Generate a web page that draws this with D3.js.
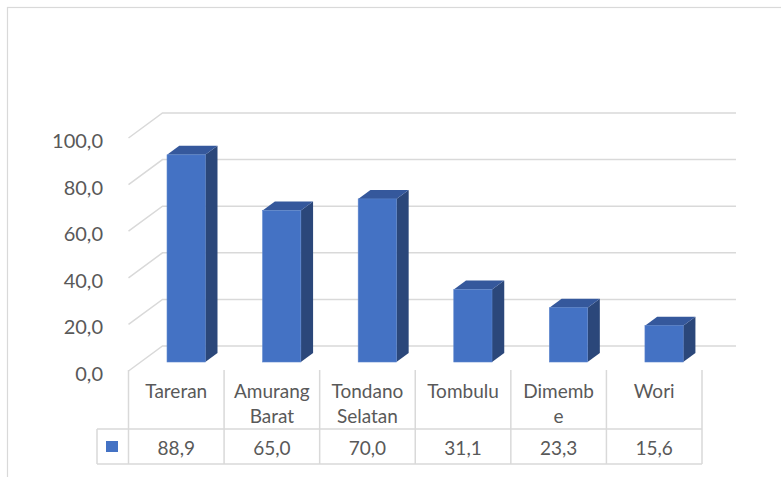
<!DOCTYPE html>
<html>
<head>
<meta charset="utf-8">
<script src="https://cdn.jsdelivr.net/npm/d3@7"></script>
<style>
  body { margin: 0; background: #fff; }
  svg { display: block; }
  text { font-family: Lato, "Open Sans", sans-serif; fill: #595959; }
</style>
</head>
<body>
<div id="chart"></div>
<script>
const categories = ['Tareran', 'Amurang Barat', 'Tondano Selatan', 'Tombulu', 'Dimembe', 'Wori']
// how the header cells wrap in the data table
const categoryLines = [['Tareran'], ['Amurang', 'Barat'], ['Tondano', 'Selatan'], ['Tombulu'], ['Dimemb', 'e'], ['Wori']]
const values = [88.9, 65.0, 70.0, 31.1, 23.3, 15.6]
const yTicks = [0, 20, 40, 60, 80, 100]

const W = 781, H = 477
const depthX = 34, depthY = 25   // the 3d offset of the back wall
const barZ0 = 0.36, barZ1 = 0.72 // bar front / back inside the depth

const svg = d3.select('#chart').append('svg')
  .attr('width', W)
  .attr('height', H)

// chart frame (only top and left edges show)
svg.append('rect')
  .attr('x', 7.5).attr('y', 7.5)
  .attr('width', 900).attr('height', 600)
  .attr('fill', 'none')
  .attr('stroke', '#d9d9d9')
  .attr('stroke-width', 1.2)

const x = d3.scaleBand()
  .domain(categories)
  .range([128.5, 702])

const y = d3.scaleLinear()
  .domain([0, 100])
  .range([371, 138])

const fmt = v => d3.format('.1f')(v).replace('.', ',')

// project a point given front-plane x, value and depth z (0..1)
const px = (xv, z) => xv + depthX * z
const py = (v, z) => y(v) - depthY * z

// gridlines: side diagonal + back wall line
const grid = svg.append('g')
  .attr('stroke', '#d9d9d9')
  .attr('stroke-width', 1.5)
  .attr('fill', 'none')
grid.selectAll('path')
  .data(yTicks)
  .join('path')
  .attr('d', d => `M${x.range()[0]},${y(d)}L${px(x.range()[0], 1)},${py(d, 1)}L${px(x.range()[1], 1)},${py(d, 1)}`)

// tick labels
svg.append('g')
  .selectAll('text')
  .data(yTicks)
  .join('text')
  .attr('x', 103)
  .attr('y', d => y(d) + 2)
  .attr('text-anchor', 'end')
  .attr('dominant-baseline', 'central')
  .attr('font-size', 20)
  .text(fmt)

// bars
const bw = x.bandwidth() * 0.4
const bx = c => x(c) + x.bandwidth() * 0.275
const bars = svg.append('g')
  .selectAll('g')
  .data(values.map((v, i) => ({ c: categories[i], v })))
  .join('g')

const pts = a => a.map(p => p.join(',')).join(' ')

// side
bars.append('polygon')
  .attr('fill', '#2b477a')
  .attr('points', d => pts([
    [px(bx(d.c) + bw, barZ0), py(0, barZ0)],
    [px(bx(d.c) + bw, barZ1), py(0, barZ1)],
    [px(bx(d.c) + bw, barZ1), py(d.v, barZ1)],
    [px(bx(d.c) + bw, barZ0), py(d.v, barZ0)]
  ]))
// top
bars.append('polygon')
  .attr('fill', '#35589c')
  .attr('points', d => pts([
    [px(bx(d.c), barZ0), py(d.v, barZ0)],
    [px(bx(d.c), barZ1), py(d.v, barZ1)],
    [px(bx(d.c) + bw, barZ1), py(d.v, barZ1)],
    [px(bx(d.c) + bw, barZ0), py(d.v, barZ0)]
  ]))
// front
bars.append('rect')
  .attr('fill', '#4472c4')
  .attr('stroke', '#5b84cc')
  .attr('stroke-width', 0.6)
  .attr('x', d => px(bx(d.c), barZ0))
  .attr('y', d => py(d.v, barZ0))
  .attr('width', bw)
  .attr('height', d => py(0, barZ0) - py(d.v, barZ0))

// data table
const rowTop = 370, rowMid = 429, rowBot = 464, keyLeft = 97
const tbl = svg.append('g')
  .attr('stroke', '#d9d9d9')
  .attr('stroke-width', 1.5)
tbl.selectAll('line.v')
  .data(categories.map(c => x(c)).concat([x.range()[1]]))
  .join('line')
  .attr('class', 'v')
  .attr('x1', d => d).attr('x2', d => d)
  .attr('y1', rowTop).attr('y2', rowBot)
tbl.append('line')
  .attr('x1', keyLeft).attr('x2', keyLeft)
  .attr('y1', rowMid).attr('y2', rowBot)
tbl.selectAll('line.h')
  .data([rowMid, rowBot])
  .join('line')
  .attr('class', 'h')
  .attr('x1', keyLeft).attr('x2', x.range()[1])
  .attr('y1', d => d).attr('y2', d => d)

// header text
svg.append('g')
  .selectAll('text')
  .data(categories)
  .join('text')
  .attr('text-anchor', 'middle')
  .attr('font-size', 19)
  .each(function (c, i) {
    d3.select(this).selectAll('tspan')
      .data(categoryLines[i])
      .join('tspan')
      .attr('x', x(c) + x.bandwidth() / 2)
      .attr('y', (d, j) => 398 + j * 25)
      .text(d => d)
  })

// value row
svg.append('g')
  .selectAll('text')
  .data(values)
  .join('text')
  .attr('x', (d, i) => x(categories[i]) + x.bandwidth() / 2)
  .attr('y', (rowMid + rowBot) / 2 + 1)
  .attr('text-anchor', 'middle')
  .attr('dominant-baseline', 'central')
  .attr('font-size', 19)
  .text(fmt)

// legend key
svg.append('rect')
  .attr('x', 106).attr('y', 441)
  .attr('width', 12).attr('height', 11)
  .attr('fill', '#4472c4')
</script>
</body>
</html>
